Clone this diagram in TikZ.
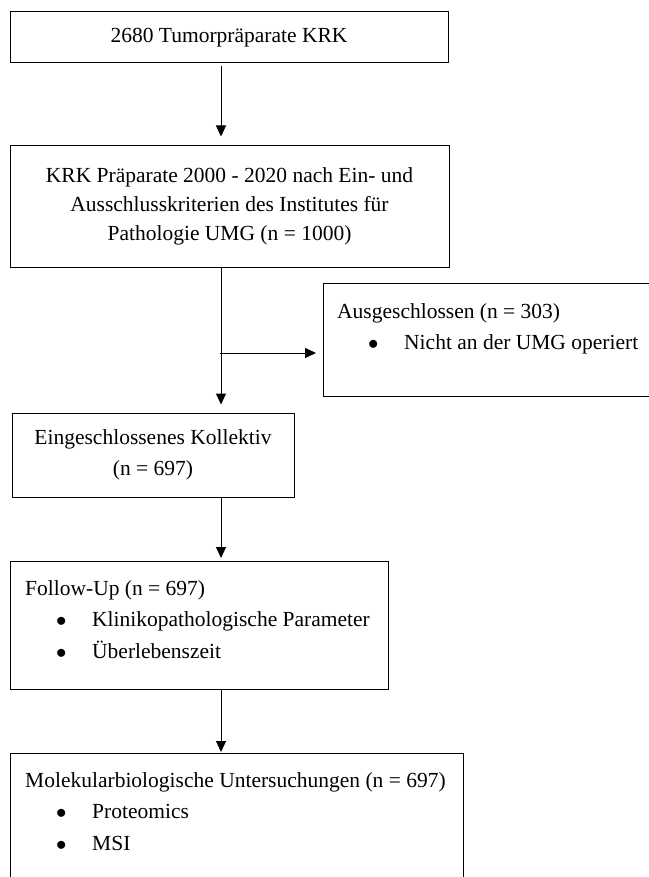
\documentclass[tikz,border=0pt]{standalone}
\usepackage{fontspec}
\setmainfont{Liberation Serif}
\usetikzlibrary{arrows.meta}
\tikzset{
  kasten/.style={draw, line width=1pt, inner sep=0pt},
  zeile/.style={anchor=base west, inner sep=0pt},
  pfeil/.style={-{Triangle[length=11pt,width=10pt]}, line width=1pt},
}
\newcommand{\punkt}{\hspace*{31pt}\makebox[36pt][l]{$\bullet$}}
\begin{document}
\begin{tikzpicture}[x=1pt,y=-1pt,font=\fontsize{21.5}{29}\selectfont]
        \useasboundingbox (0,0) rectangle (648,877);
        \node[kasten, minimum width=438pt, minimum height=51pt] (tumor) at (229,37.5) {2680 Tumorpräparate KRK};
        \node[kasten, minimum width=439pt, minimum height=121pt, align=center] (praep) at (229.5,206.5) {KRK Präparate 2000 - 2020 nach Ein- und\\ Ausschlusskriterien des Institutes für\\ Pathologie UMG (n = 1000)};
        \node[kasten, anchor=north west, minimum width=337pt, minimum height=113pt] (aus) at (323,283) {};
        \node[zeile] (aus1) at (337,318) {Ausgeschlossen (n = 303)};
        \node[zeile] (aus2) at (337,349) {\punkt Nicht an der UMG operiert};
        \node[kasten, minimum width=282pt, minimum height=84pt, align=center, font=\fontsize{21.5}{31}\selectfont] (ein) at (153,455) {Eingeschlossenes Kollektiv\\ (n = 697)};
        \node[kasten, anchor=north west, minimum width=378pt, minimum height=128pt] (follow) at (10,561) {};
        \node[zeile] (follow1) at (25,595) {Follow-Up (n = 697)};
        \node[zeile] (follow2) at (25,626) {\punkt Klinikopathologische Parameter};
        \node[zeile] (follow3) at (25,658) {\punkt Überlebenszeit};
        \node[kasten, anchor=north west, minimum width=453pt, minimum height=140pt] (molek) at (10,753) {};
        \node[zeile] (molek1) at (25,787) {Molekularbiologische Untersuchungen (n = 697)};
        \node[zeile] (molek2) at (25,818) {\punkt Proteomics};
        \node[zeile] (molek3) at (25,850) {\punkt MSI};
        % Verbindungen
        \coordinate (achse) at (221,0);
        \coordinate (abzweig) at (220,353);
        \draw[pfeil, shorten <=3pt, shorten >=9pt] (tumor.south -| achse) -- (praep.north -| achse);
        \draw[pfeil, shorten >=8pt] (praep.south -| achse) -- (ein.north -| achse);
        \draw[pfeil, shorten >=7pt] (abzweig) -- (abzweig -| aus.west);
        \draw[pfeil, shorten >=3pt] (ein.south -| achse) -- (follow.north -| achse);
        \draw[pfeil, shorten >=1pt] (follow.south -| achse) -- (molek.north -| achse);
\end{tikzpicture}
\end{document}
